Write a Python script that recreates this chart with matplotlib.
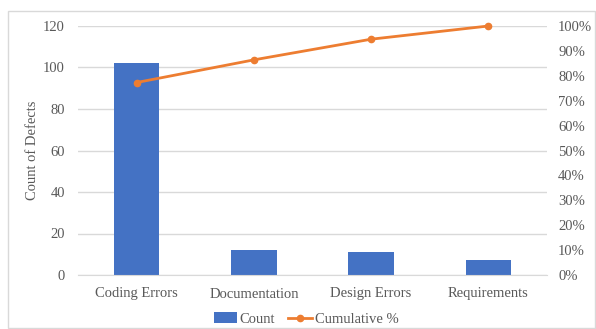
import numpy as np
import matplotlib
matplotlib.use('Agg')
import matplotlib.pyplot as plt
from matplotlib.patches import Rectangle
from matplotlib.ticker import FuncFormatter

plt.rcParams['font.family'] = ['Liberation Serif', 'DejaVu Serif']

categories = ["Coding Errors", "Documentation", "Design Errors", "Requirements"]
counts = [102, 12, 11, 7]
cumulative_pct = [77.3, 86.4, 94.7, 100.0]

text_grey = "#595959"
grid_grey = "#D9D9D9"
bar_blue = "#4472C4"
line_orange = "#ED7D31"

fig = plt.figure(figsize=(5.96, 3.29), dpi=100)
ax = fig.add_axes([78 / 596, 1 - 275 / 329, (547 - 78) / 596, (275 - 26) / 329])

x = np.arange(len(categories))
ax.bar(x, counts, width=0.39, color=bar_blue, zorder=2, label="Count")
ax.set_xlim(-0.5, len(categories) - 0.5)
ax.set_ylim(0, 120)
ax.set_yticks(range(0, 121, 20))
ax.set_xticks(x)
ax.set_xticklabels(categories)
ax.yaxis.grid(True, color=grid_grey, linewidth=1.0, zorder=0)
ax.set_axisbelow(True)
for s in ["top", "right", "left"]:
    ax.spines[s].set_visible(False)
ax.spines["bottom"].set_color(grid_grey)
ax.tick_params(axis="both", length=0, labelsize=10.5, colors=text_grey)
ax.tick_params(axis="x", pad=9)
ax.tick_params(axis="y", pad=9.5)
ax.set_ylabel("Count of Defects", fontsize=10.5, color=text_grey, labelpad=2.5)

ax2 = ax.twinx()
ax2.plot(x, cumulative_pct, color=line_orange, linewidth=2.0, marker="o",
         markersize=4.5, zorder=3, clip_on=False, label="Cumulative %")
ax2.set_ylim(0, 100)
ax2.set_yticks(range(0, 101, 10))
ax2.yaxis.set_major_formatter(FuncFormatter(lambda v, p: f"{int(v)}%"))
ax2.tick_params(axis="y", length=0, labelsize=10.5, colors=text_grey, pad=8)
for s in ax2.spines.values():
    s.set_visible(False)

h1, l1 = ax.get_legend_handles_labels()
h2, l2 = ax2.get_legend_handles_labels()
fig.legend(h1 + h2, l1 + l2, loc="center", bbox_to_anchor=(306 / 596, 1 - 319 / 329),
           ncol=2, frameon=False, fontsize=10.5, labelcolor=text_grey,
           handlelength=1.6, handletextpad=0.2, columnspacing=0.9)

# chart border
fig.patches.append(Rectangle((8 / 596, 0.002), 1 - 8 / 596 - 0.002, 1 - 11 / 329 - 0.002,
                             transform=fig.transFigure, fill=False,
                             edgecolor=grid_grey, linewidth=1.0))

fig.savefig("out.png", dpi=100)
